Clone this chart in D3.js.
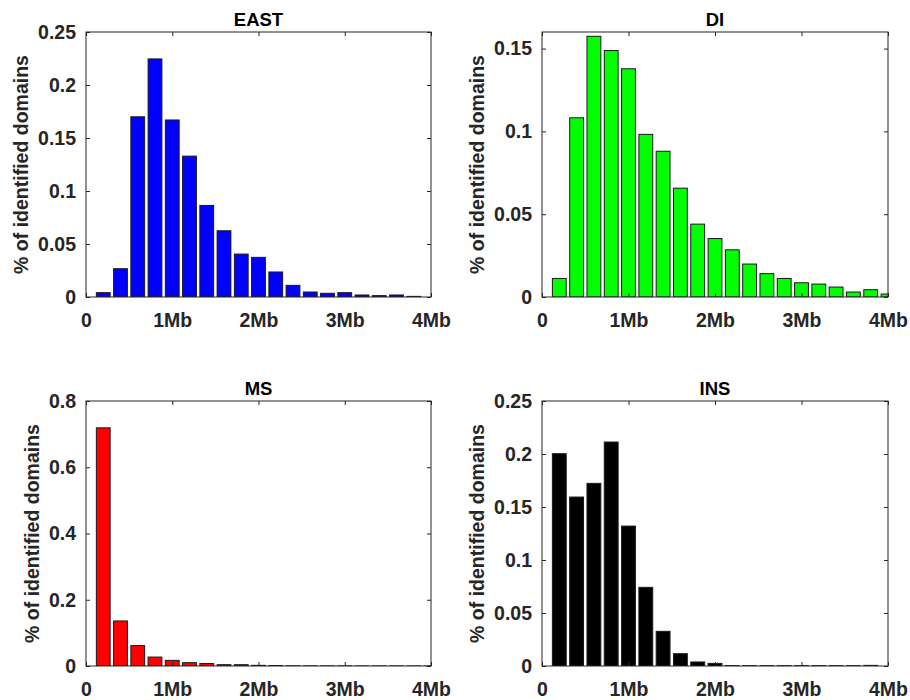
<!DOCTYPE html>
<html>
<head>
<meta charset="utf-8">
<title>Domain size distributions</title>
<script src="https://d3js.org/d3.v7.min.js"></script>
<style>
  body { margin: 0; background: white; }
  svg text { font-family: "Liberation Sans", Arial, sans-serif; font-weight: bold; }
  .tick text { fill: #262626; font-size: 19.5px; }
  .tick line { stroke: #262626; }
</style>
</head>
<body>
<script>
// bin centres (Mb)
var binCenters = [0.2, 0.4, 0.6, 0.8, 1.0, 1.2, 1.4, 1.6, 1.8, 2.0,
                  2.2, 2.4, 2.6, 2.8, 3.0, 3.2, 3.4, 3.6, 3.8, 4.0];

var eastValues = [0.0041, 0.0267, 0.170, 0.2246, 0.167, 0.1329, 0.0864, 0.0625, 0.0405, 0.0374,
                  0.0236, 0.011, 0.0047, 0.0035, 0.0041, 0.0019, 0.0013, 0.0019, 0.0006, 0];
var diValues   = [0.0112, 0.1082, 0.1574, 0.1488, 0.1378, 0.0982, 0.088, 0.0657, 0.044, 0.0353,
                  0.0285, 0.0199, 0.0141, 0.0112, 0.0086, 0.0078, 0.006, 0.003, 0.0044, 0.0018];
var msValues   = [0.719, 0.136, 0.0616, 0.027, 0.017, 0.010, 0.0075, 0.004, 0.004, 0.002,
                  0.0015, 0.0006, 0.0005, 0.0004, 0.0004, 0.0003, 0.0003, 0.0003, 0.0002, 0.0002];
var insValues  = [0.2003, 0.1594, 0.1723, 0.2113, 0.132, 0.0742, 0.0327, 0.0116, 0.0038, 0.0025,
                  0.0004, 0.0003, 0.0003, 0.0003, 0.0003, 0.0003, 0.0003, 0.0003, 0.0006, 0];

var xTickValues = [0, 1, 2, 3, 4];
var xTickLabels = ["0", "1Mb", "2Mb", "3Mb", "4Mb"];

var yTicksEast = [0, 0.05, 0.1, 0.15, 0.2, 0.25];
var yTicksDi   = [0, 0.05, 0.1, 0.15];
var yTicksMs   = [0, 0.2, 0.4, 0.6, 0.8];
var yTicksIns  = [0, 0.05, 0.1, 0.15, 0.2, 0.25];

var yLabel = "% of identified domains";

var panels = [
  {title: "EAST", values: eastValues, color: "#0000ff", yMax: 0.25, yTicks: yTicksEast,
   left: 86, right: 431, top: 32, bottom: 297},
  {title: "DI", values: diValues, color: "#00ff00", yMax: 0.16, yTicks: yTicksDi,
   left: 542, right: 888, top: 32, bottom: 297},
  {title: "MS", values: msValues, color: "#ff0000", yMax: 0.8, yTicks: yTicksMs,
   left: 86, right: 431, top: 401, bottom: 666},
  {title: "INS", values: insValues, color: "#000000", yMax: 0.25, yTicks: yTicksIns,
   left: 542, right: 888, top: 401, bottom: 666}
];

var width = 910, height = 700;

var svg = d3.select("body")
  .append("svg")
  .attr("width", width)
  .attr("height", height);

panels.forEach(function(p, i) {
  var x = d3.scaleLinear().domain([0, 4]).range([p.left, p.right]);
  var y = d3.scaleLinear().domain([0, p.yMax]).range([p.bottom, p.top]);
  var barW = x(0.16) - x(0);

  var g = svg.append("g");

  svg.append("clipPath")
    .attr("id", "clip" + i)
    .append("rect")
    .attr("x", p.left).attr("y", p.top)
    .attr("width", p.right - p.left).attr("height", p.bottom - p.top);

  g.append("g")
    .attr("clip-path", "url(#clip" + i + ")")
    .selectAll("rect")
    .data(p.values)
    .enter()
    .append("rect")
    .attr("x", function(d, j) { return x(binCenters[j]) - barW / 2; })
    .attr("y", function(d) { return y(d); })
    .attr("width", barW)
    .attr("height", function(d) { return p.bottom - y(d); })
    .attr("fill", p.color)
    .attr("stroke", "#1a1a1a")
    .attr("stroke-width", 1);

  // box
  g.append("rect")
    .attr("x", p.left).attr("y", p.top)
    .attr("width", p.right - p.left).attr("height", p.bottom - p.top)
    .attr("fill", "none")
    .attr("stroke", "#262626")
    .attr("stroke-width", 1);

  var xb = g.append("g")
    .attr("transform", "translate(0," + p.bottom + ")")
    .call(d3.axisBottom(x).tickValues(xTickValues)
      .tickFormat(function(d, j) { return xTickLabels[j]; })
      .tickSizeInner(-4).tickSizeOuter(0).tickPadding(16));
  xb.select(".domain").remove();

  var xt = g.append("g")
    .attr("transform", "translate(0," + p.top + ")")
    .call(d3.axisTop(x).tickValues(xTickValues).tickFormat("")
      .tickSizeInner(-4).tickSizeOuter(0));
  xt.select(".domain").remove();

  var yl = g.append("g")
    .attr("transform", "translate(" + p.left + ",0)")
    .call(d3.axisLeft(y).tickValues(p.yTicks).tickFormat(d3.format("~g"))
      .tickSizeInner(-4).tickSizeOuter(0).tickPadding(10));
  yl.select(".domain").remove();

  var yr = g.append("g")
    .attr("transform", "translate(" + p.right + ",0)")
    .call(d3.axisRight(y).tickValues(p.yTicks).tickFormat("")
      .tickSizeInner(-4).tickSizeOuter(0));
  yr.select(".domain").remove();

  var maxW = 0;
  yl.selectAll("text").each(function() {
    maxW = Math.max(maxW, this.getBBox().width);
  });

  var cx = p.left - 10 - maxW - 17;
  var cy = (p.top + p.bottom) / 2;
  g.append("text")
    .attr("transform", "translate(" + cx + "," + cy + ") rotate(-90)")
    .attr("text-anchor", "middle")
    .attr("dy", "0.35em")
    .attr("fill", "#262626")
    .attr("font-size", "19.5px")
    .text(yLabel);

  g.append("text")
    .attr("x", (p.left + p.right) / 2)
    .attr("y", p.top - 6)
    .attr("text-anchor", "middle")
    .attr("fill", "#000")
    .attr("font-size", "18.5px")
    .text(p.title);
});
</script>
</body>
</html>
